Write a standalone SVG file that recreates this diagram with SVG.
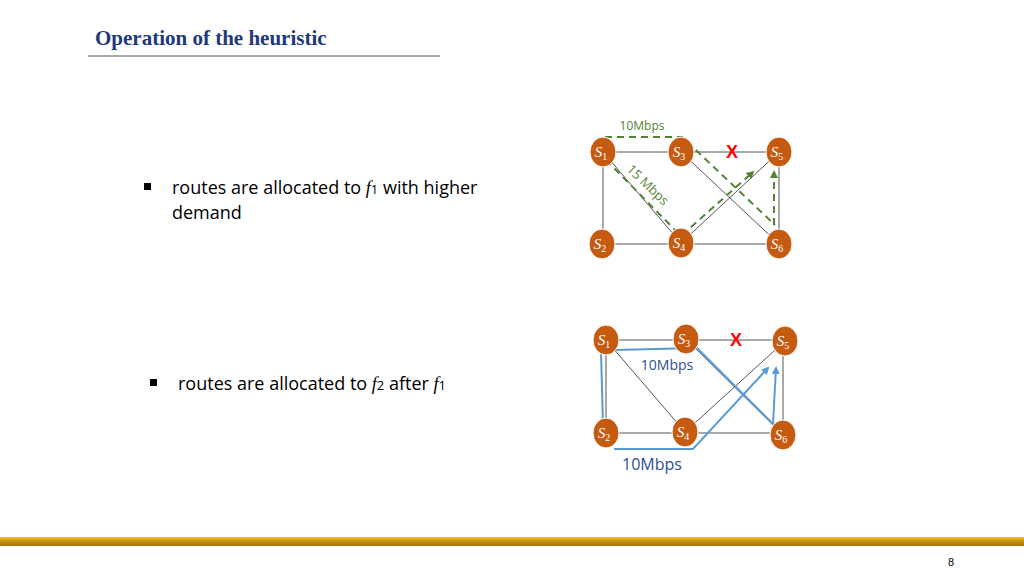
<svg xmlns="http://www.w3.org/2000/svg" width="1024" height="576" viewBox="0 0 1024 576">
<defs>
<linearGradient id="gold" x1="0" y1="0" x2="0" y2="1"><stop offset="0" stop-color="#e8c040"/><stop offset="0.5" stop-color="#c8900a"/><stop offset="1" stop-color="#a87008"/></linearGradient>
<marker id="ag" markerWidth="8" markerHeight="8" refX="6" refY="4" orient="auto" markerUnits="userSpaceOnUse"><path d="M0,0 L8,4 L0,8 z" fill="#548235"/></marker>
<marker id="ab" markerWidth="8" markerHeight="8" refX="6" refY="4" orient="auto" markerUnits="userSpaceOnUse"><path d="M0,0 L8,4 L0,8 z" fill="#5b9bd5"/></marker>
</defs>
<style>
.n{fill:#c55a11;stroke:#fff;stroke-width:1}
.nt{font-family:"Liberation Serif",serif;font-style:italic;fill:#fff;font-size:15px;text-anchor:middle}
.sub{font-size:10px;font-style:normal}
.e{stroke:#555;stroke-width:1;fill:none}
.g{stroke:#548235;stroke-width:2;stroke-dasharray:7,5;fill:none}
.b{stroke:#5b9bd5;stroke-width:2;fill:none}
.t{font-family:"Open Sans","Liberation Sans",sans-serif;font-size:18px;fill:#000}
.x{font-family:"Liberation Sans",sans-serif;font-weight:bold;font-size:18px;fill:#f00;text-anchor:middle}
</style>
<rect width="1024" height="576" fill="#fff"/>
<text x="95" y="45" font-family="Liberation Serif,serif" font-weight="bold" font-size="21" fill="#1f3a7a">Operation of the heuristic</text>
<line x1="88" y1="56" x2="440" y2="56" stroke="#555" stroke-width="1"/>
<rect x="0" y="537" width="1024" height="9" fill="url(#gold)"/>
<text x="951" y="566" font-family="Liberation Sans,sans-serif" font-size="11" text-anchor="middle">8</text>
<rect x="144" y="183" width="7" height="7" fill="#000"/>
<text class="t" x="172" y="194">routes are allocated to <tspan font-family="Liberation Serif,serif" font-style="italic">f</tspan><tspan font-size="13">1</tspan> with higher</text>
<text class="t" x="172" y="219">demand</text>
<rect x="150" y="379" width="7" height="7" fill="#000"/>
<text class="t" x="178" y="390">routes are allocated to <tspan font-family="Liberation Serif,serif" font-style="italic">f</tspan><tspan font-size="13">2</tspan> after <tspan font-family="Liberation Serif,serif" font-style="italic">f</tspan><tspan font-size="13">1</tspan></text>
<g id="connectors">
<path class="e" d="M603,152H779M603,152V244H779V152M603,152L681,243M681,152L779,244M681,243L779,152"/>
<path class="e" d="M606,340H785M606,340V433H783V341M606,340L685,432M686,339L783,435M685,432L785,341"/>
<path class="g" d="M605,137H682L775,225"/>
<path class="g" d="M606,160L681,236L753,172" marker-end="url(#ag)"/>
<path class="g" d="M774,225V172" marker-end="url(#ag)"/>
<text x="642" y="130" font-family="Open Sans,Liberation Sans,sans-serif" font-size="12" fill="#548235" text-anchor="middle">10Mbps</text>
<text transform="translate(626,170) rotate(44)" font-family="Open Sans,Liberation Sans,sans-serif" font-size="13" fill="#548235">15 Mbps</text>
<path class="b" d="M614,350L697,348L773,424L776,368" marker-end="url(#ab)"/>
<path class="b" d="M601,352L603,425"/>
<path class="b" d="M614,449H693L768,368" marker-end="url(#ab)"/>
<text x="667" y="370" font-family="Open Sans,Liberation Sans,sans-serif" font-size="14" fill="#2f4f8f" text-anchor="middle">10Mbps</text>
<text x="652" y="470" font-family="Open Sans,Liberation Sans,sans-serif" font-size="16" fill="#2f4f8f" text-anchor="middle">10Mbps</text>
<text class="x" x="732" y="158">X</text>
<text class="x" x="736" y="346">X</text>
</g>
<g id="s1a"><ellipse class="n" cx="603" cy="152" rx="13" ry="15"/><text class="nt" x="601" y="157">S<tspan class="sub" dy="3">1</tspan></text></g>
<g id="s3a"><ellipse class="n" cx="681" cy="152" rx="13" ry="15"/><text class="nt" x="679" y="157">S<tspan class="sub" dy="3">3</tspan></text></g>
<g id="s5a"><ellipse class="n" cx="779" cy="152" rx="13" ry="15"/><text class="nt" x="777" y="157">S<tspan class="sub" dy="3">5</tspan></text></g>
<g id="s2a"><ellipse class="n" cx="602" cy="244" rx="13" ry="15"/><text class="nt" x="600" y="249">S<tspan class="sub" dy="3">2</tspan></text></g>
<g id="s4a"><ellipse class="n" cx="681" cy="243" rx="13" ry="15"/><text class="nt" x="679" y="248">S<tspan class="sub" dy="3">4</tspan></text></g>
<g id="s6a"><ellipse class="n" cx="779" cy="244" rx="13" ry="15"/><text class="nt" x="777" y="249">S<tspan class="sub" dy="3">6</tspan></text></g>
<g id="s1b"><ellipse class="n" cx="606" cy="340" rx="13" ry="15"/><text class="nt" x="604" y="345">S<tspan class="sub" dy="3">1</tspan></text></g>
<g id="s3b"><ellipse class="n" cx="686" cy="339" rx="13" ry="15"/><text class="nt" x="684" y="344">S<tspan class="sub" dy="3">3</tspan></text></g>
<g id="s5b"><ellipse class="n" cx="785" cy="341" rx="13" ry="15"/><text class="nt" x="783" y="346">S<tspan class="sub" dy="3">5</tspan></text></g>
<g id="s2b"><ellipse class="n" cx="606" cy="433" rx="13" ry="15"/><text class="nt" x="604" y="438">S<tspan class="sub" dy="3">2</tspan></text></g>
<g id="s4b"><ellipse class="n" cx="685" cy="432" rx="13" ry="15"/><text class="nt" x="683" y="437">S<tspan class="sub" dy="3">4</tspan></text></g>
<g id="s6b"><ellipse class="n" cx="783" cy="435" rx="13" ry="15"/><text class="nt" x="781" y="440">S<tspan class="sub" dy="3">6</tspan></text></g>
</svg>
